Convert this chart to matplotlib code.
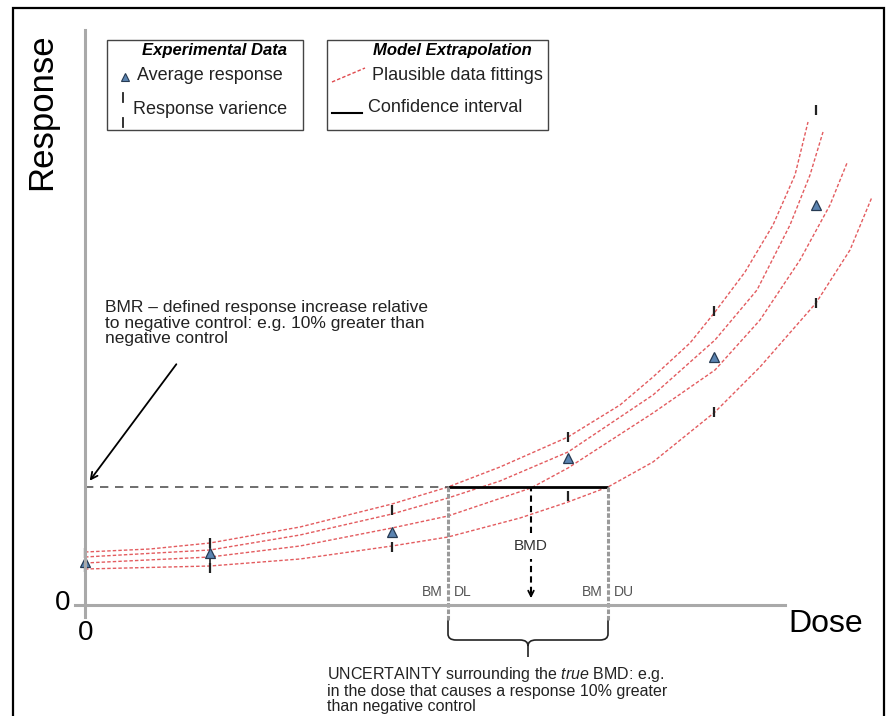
import matplotlib
matplotlib.use("Agg")
import matplotlib.pyplot as plt
from matplotlib.patches import Rectangle, PathPatch
from matplotlib.lines import Line2D
from matplotlib.path import Path

plt.rcParams["font.family"] = ["Liberation Sans", "DejaVu Sans"]
plt.rcParams["mathtext.fontset"] = "custom"
plt.rcParams["mathtext.rm"] = "Liberation Sans"
plt.rcParams["mathtext.it"] = "Liberation Sans:italic"

# experimental data (dose, response)
dose_points = [0, 12.5, 30.7, 48.3, 62.9, 73.1]
avg_response = [4.3, 5.2, 7.3, 14.7, 24.8, 40.0]
resp_upper = [5.2, 6.2, 9.5, 16.8, 29.4, 49.5]
resp_lower = [3.8, 3.7, 5.8, 10.9, 19.3, 30.2]

# plausible model fittings
fit_a_dose = [0, 6.5, 12.5, 21.5, 30.7, 36.3, 41.5, 48.3, 53.5, 56.8, 60.5, 63.0, 66.0, 68.8, 71.0, 72.3]
fit_a_resp = [5.3, 5.6, 6.2, 7.8, 10.1, 11.8, 13.8, 16.8, 20.0, 22.8, 26.2, 29.3, 33.3, 38.0, 43.0, 48.3]
fit_b_dose = [0, 12.5, 21.5, 30.7, 36.3, 41.5, 48.3, 56.8, 63.0, 67.2, 70.5, 72.5, 73.8]
fit_b_resp = [4.8, 5.5, 7.0, 9.1, 10.7, 12.4, 15.3, 21.0, 26.5, 31.5, 38.0, 43.0, 47.3]
fit_c_dose = [0, 12.5, 21.5, 30.7, 36.3, 44.6, 48.3, 56.8, 63.0, 67.5, 71.5, 74.5, 76.2]
fit_c_resp = [4.2, 4.8, 5.9, 7.7, 8.9, 11.7, 13.7, 19.2, 23.5, 28.5, 34.5, 40.0, 44.2]
fit_d_dose = [0, 12.5, 21.5, 30.7, 36.3, 43.5, 48.3, 52.3, 56.8, 63.0, 67.5, 73.1, 76.5, 78.7]
fit_d_resp = [3.6, 3.9, 4.6, 5.9, 6.8, 8.7, 10.3, 11.8, 14.3, 19.3, 23.8, 30.2, 35.5, 40.8]

bmr_level = 11.8
bmdl, bmd, bmdu = 36.3, 44.6, 52.3

W, H = 890, 716


def P(x, y):
    # pixel position -> figure fraction
    return x / W, 1 - y / H


fig = plt.figure(figsize=(8.9, 7.16), dpi=100)
ax = fig.add_axes([0, 0, 1, 1])
ax.set_xlim(-8.5, 80.5)
ax.set_ylim(-11.1, 60.5)
ax.set_xticks([])
ax.set_yticks([])
for side in ["top", "right"]:
    ax.spines[side].set_visible(False)
for side in ["left", "bottom"]:
    ax.spines[side].set_position(("data", 0))
    ax.spines[side].set_color("#a9a9a9")
    ax.spines[side].set_linewidth(2.2)
ax.spines["left"].set_bounds(-1.2, 57.5)
ax.spines["bottom"].set_bounds(-1.0, 70)

# axis labels
ax.set_ylabel("Response", fontsize=25)
ax.yaxis.set_label_coords(58 / W, 1 - 112 / H)
ax.set_xlabel("Dose", fontsize=23)
ax.xaxis.set_label_coords(826 / W, 1 - 609 / H)
fig.text(*P(63, 603), "0", fontsize=20, ha="center", va="center")
fig.text(*P(86, 633), "0", fontsize=20, ha="center", va="center")

# model curves
red = "#e04a4e"
for d, r in [(fit_a_dose, fit_a_resp), (fit_b_dose, fit_b_resp),
             (fit_c_dose, fit_c_resp), (fit_d_dose, fit_d_resp)]:
    ax.plot(d, r, color=red, lw=1.0, ls=(0, (2.5, 1.5)), alpha=0.9)

# response variance
for d, lo, hi in zip(dose_points, resp_lower, resp_upper):
    if hi - lo < 3:
        ax.vlines(d, lo, hi, colors="#222222", lw=1.2)
ax.plot(dose_points, resp_upper, ls="none", marker="|", ms=7, mew=1.6, color="#222222")
ax.plot(dose_points, resp_lower, ls="none", marker="|", ms=7, mew=1.6, color="#222222")

# average response
ax.plot(dose_points, avg_response, ls="none", marker="^", ms=7.5,
        mfc="#5b84b1", mec="#263a52", mew=0.9)

# BMR level and confidence interval
ax.hlines(bmr_level, 0, bmdl, colors="#555555", lw=1.2, ls=(0, (5, 4)))
ax.hlines(bmr_level, bmdl, bmdu, colors="black", lw=2.0)
ax.vlines([bmdl, bmdu], -1.5, bmr_level, colors="#9a9a9a", lw=2.2, ls=(0, (1.5, 0.6)))

# BMD arrow
ax.vlines(bmd, 7.2, bmr_level, colors="black", lw=1.5, ls=(0, (3, 2)))
ax.vlines(bmd, 1.2, 4.6, colors="black", lw=1.5, ls=(0, (3, 2)))
ax.annotate("", xy=(bmd, 0.4), xytext=(bmd, 1.6),
            arrowprops=dict(arrowstyle="->", color="black", lw=1.3, mutation_scale=10))
ax.text(bmd, 5.9, "BMD", fontsize=11, ha="center", va="center", color="#333333")

# BMDL / BMDU labels
lab = dict(fontsize=10, va="center", color="#555555")
ax.text(bmdl - 0.55, 1.3, "BM", ha="right", **lab)
ax.text(bmdl + 0.55, 1.3, "DL", ha="left", **lab)
ax.text(bmdu - 0.55, 1.3, "BM", ha="right", **lab)
ax.text(bmdu + 0.55, 1.3, "DU", ha="left", **lab)

# brace under the interval
mid = (bmdl + bmdu) / 2
verts = [(bmdl, -1.5), (bmdl, -2.9), (bmdl, -3.5), (bmdl + 0.8, -3.5),
         (mid - 0.8, -3.5), (mid, -3.5), (mid, -4.1), (mid, -5.2),
         (bmdu, -1.5), (bmdu, -2.9), (bmdu, -3.5), (bmdu - 0.8, -3.5),
         (mid + 0.8, -3.5), (mid, -3.5), (mid, -4.1)]
codes = [Path.MOVETO, Path.LINETO, Path.CURVE3, Path.CURVE3,
         Path.LINETO, Path.CURVE3, Path.CURVE3, Path.LINETO,
         Path.MOVETO, Path.LINETO, Path.CURVE3, Path.CURVE3,
         Path.LINETO, Path.CURVE3, Path.CURVE3]
ax.add_patch(PathPatch(Path(verts, codes), fill=False, ec="#222222", lw=1.2))

# BMR annotation
ax.annotate("", xy=(0.3, 12.2), xytext=(9.3, 24.3),
            arrowprops=dict(arrowstyle="->", color="black", lw=1.3, mutation_scale=12))
fig.text(*P(105, 300),
         "BMR \u2013 defined response increase relative\n"
         "to negative control: e.g. 10% greater than\n"
         "negative control",
         fontsize=12.5, ha="left", va="top", color="#222222", linespacing=1.05)

fig.text(*P(327, 665),
         "UNCERTAINTY surrounding the $\\it{true}$ BMD: e.g.\n"
         "in the dose that causes a response 10% greater\n"
         "than negative control",
         fontsize=11.5, ha="left", va="top", color="#222222", linespacing=1.0)

# legend boxes
fig.add_artist(Rectangle(P(107, 130), 196 / W, 90 / H, transform=fig.transFigure,
                         fill=False, ec="#444444", lw=1.0))
fig.add_artist(Rectangle(P(327, 130), 221 / W, 90 / H, transform=fig.transFigure,
                         fill=False, ec="#444444", lw=1.0))
fig.text(*P(214, 50), "Experimental Data", fontsize=12, weight="bold", style="italic",
         ha="center", va="center")
fig.text(*P(373, 50), "Model Extrapolation", fontsize=12, weight="bold", style="italic",
         ha="left", va="center")

fig.add_artist(Line2D([125 / W], [1 - 77 / H], transform=fig.transFigure, ls="none",
                      marker="^", ms=6, mfc="#5b84b1", mec="#263a52", mew=0.8))
fig.add_artist(Line2D([123 / W, 123 / W], [1 - 93 / H, 1 - 102 / H],
                      transform=fig.transFigure, color="#222222", lw=1.3))
fig.add_artist(Line2D([123 / W, 123 / W], [1 - 118 / H, 1 - 127 / H],
                      transform=fig.transFigure, color="#222222", lw=1.3))
fig.text(*P(137, 76), "Average response", fontsize=13, ha="left", va="center", color="#222222")
fig.text(*P(133, 109), "Response varience", fontsize=13, ha="left", va="center", color="#222222")

fig.add_artist(Line2D([332 / W, 365 / W], [1 - 82 / H, 1 - 68 / H], transform=fig.transFigure,
                      color=red, lw=1.0, ls=(0, (2.5, 1.5))))
fig.add_artist(Line2D([332 / W, 362 / W], [1 - 113 / H, 1 - 113 / H], transform=fig.transFigure,
                      color="black", lw=1.5))
fig.text(*P(372, 76), "Plausible data fittings", fontsize=13, ha="left", va="center", color="#222222")
fig.text(*P(368, 108), "Confidence interval", fontsize=13, ha="left", va="center", color="#222222")

# outer frame
fig.add_artist(Rectangle((13 / W, 1 - 730 / H), 871 / W, 722 / H, transform=fig.transFigure,
                         fill=False, ec="black", lw=1.6))

fig.savefig("out.png", dpi=100)
